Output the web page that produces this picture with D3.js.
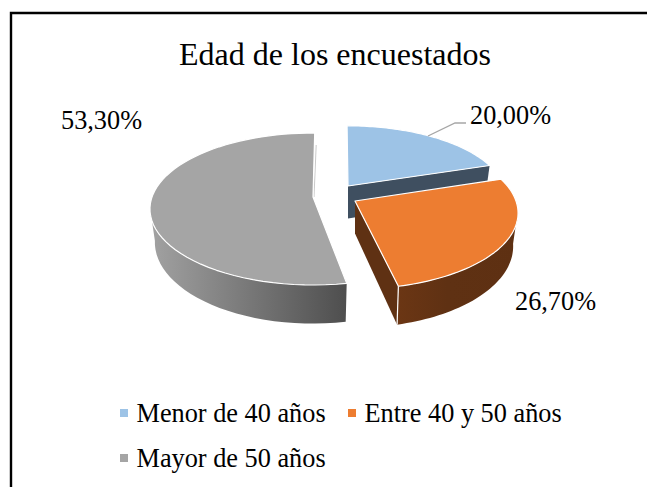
<!DOCTYPE html>
<html><head><meta charset="utf-8">
<script src="https://cdn.jsdelivr.net/npm/d3@7/dist/d3.min.js"></script>
<style>html,body{margin:0;padding:0;background:#fff}svg{display:block}text{font-family:"Liberation Serif",serif;fill:#000}</style>
</head><body><svg id="c" width="647" height="487"></svg>
<script>
const title = "Edad de los encuestados";
const categories = ["Menor de 40 años", "Entre 40 y 50 años", "Mayor de 50 años"];
const values = [20.00, 26.70, 53.30];
const valueLabels = ["20,00%", "26,70%", "53,30%"];
const topColors = ["#9dc3e6", "#ed7d31", "#a5a5a5"];

const svg = d3.select("#c");
svg.append("path").attr("d","M11,487V13H647").attr("fill","none").attr("stroke","#000").attr("stroke-width",2.4);
svg.append("text").attr("x",335).attr("y",65).attr("text-anchor","middle").attr("font-size",32).text(title);

const defs = svg.append("defs");
const gg = defs.append("linearGradient").attr("id","gw").attr("gradientUnits","userSpaceOnUse").attr("x1",150).attr("x2",347).attr("y1",0).attr("y2",0);
gg.append("stop").attr("offset",0).attr("stop-color","#a2a2a2");
gg.append("stop").attr("offset",1).attr("stop-color","#4e4e4e");
const og = defs.append("linearGradient").attr("id","ow").attr("gradientUnits","userSpaceOnUse").attr("x1",398).attr("x2",520).attr("y1",0).attr("y2",0);
og.append("stop").attr("offset",0).attr("stop-color","#6b3614");
og.append("stop").attr("offset",.4).attr("stop-color","#5f3113");
og.append("stop").attr("offset",1).attr("stop-color","#5e3012");

// perspective projection of the tilted disc
const persp = 0.158, sx = 161, sy = 74.1, depth = 32.5, shrink = 0.97;
const slices = [
  {ax:348, ay:186, kx:.97, ky:.94, d0:-.4, d1:0, wall:"#3f4f60", cut:"#3f4f60"},
  {ax:355, ay:201, kx:1, ky:1, d0:0, d1:-1.3, wall:"url(#ow)", cut:"#5f3113"},
  {ax:313, ay:197, kx:1, ky:1, d0:1.7, d1:.7, wall:"url(#gw)", cut:"#888"}
];
const arcs = d3.pie().sort(null).value(d=>d)(values);
const proj = (s,th,r,low) => {
  const X=r*Math.sin(th), Z=r*Math.cos(th), w=1/(1+persp*Z);
  return [s.ax+sx*s.kx*X*w*(low?shrink:1), s.ay-sy*s.ky*Z*w+(low?depth*w:0)];
};
const line = d3.line();
[0,2,1].forEach(i=>{
  const a=arcs[i], s=slices[i], g=svg.append("g");
  const a0=a.startAngle+s.d0*Math.PI/180, a1=a.endAngle+s.d1*Math.PI/180;
  const ths=d3.range(0,61).map(t=>a0+(a1-a0)*t/60);
  const apexT=proj(s,0,0,false), apexB=proj(s,0,0,true);
  const front=ths.filter(t=>Math.cos(t)<-0.1);
  if(front.length){
    const w=[...front.map(t=>proj(s,t,1,false)),...front.slice().reverse().map(t=>proj(s,t,1,true))];
    g.append("path").attr("d",line(w)+"Z").attr("fill",s.wall);
  }
  if(i<2){
    const p=proj(s,a1,1,false), q=proj(s,a1,1,true);
    g.append("path").attr("d",line([apexT,p,q,apexB])+"Z").attr("fill",s.cut);
    if(i===1) g.append("line").attr("x1",p[0]).attr("y1",p[1]).attr("x2",q[0]).attr("y2",q[1]).attr("stroke","#fff").attr("stroke-width",1.2);
  } else {
    const p=proj(s,a1,1,false);
    g.append("path").attr("d",line([[p[0]+1,p[1]+12],[p[0]+2,p[1]+12],[apexT[0]+1.5,apexT[1]],[apexT[0]+.5,apexT[1]]])+"Z").attr("fill","#c9c9c9");
  }
  g.append("path").attr("d",line([apexT,...ths.map(t=>proj(s,t,1,false))])+"Z")
    .attr("fill",topColors[i]).attr("stroke","#fff").attr("stroke-width",1.2).attr("stroke-linejoin","round");
});

svg.append("path").attr("d",line([[428,136],[455,123],[466,123]])).attr("fill","none").attr("stroke","#a6a6a6").attr("stroke-width",1.3);
const labelPos=[[470,124],[515,310],[61,129]];
svg.selectAll("text.v").data(valueLabels).join("text").attr("class","v").attr("x",(d,i)=>labelPos[i][0]).attr("y",(d,i)=>labelPos[i][1]).attr("font-size",26.3).text(d=>d);
const legPos=[[120,421.5],[348,421.5],[120,466.5]];
const lg=svg.selectAll("g.l").data(categories).join("g").attr("class","l").attr("transform",(d,i)=>`translate(${legPos[i][0]},${legPos[i][1]})`);
lg.append("rect").attr("x",0).attr("y",-12.5).attr("width",8).attr("height",8).attr("fill",(d,i)=>topColors[i]);
lg.append("text").attr("x",16.5).attr("y",0).attr("font-size",26.3).text(d=>d);
</script></body></html>
